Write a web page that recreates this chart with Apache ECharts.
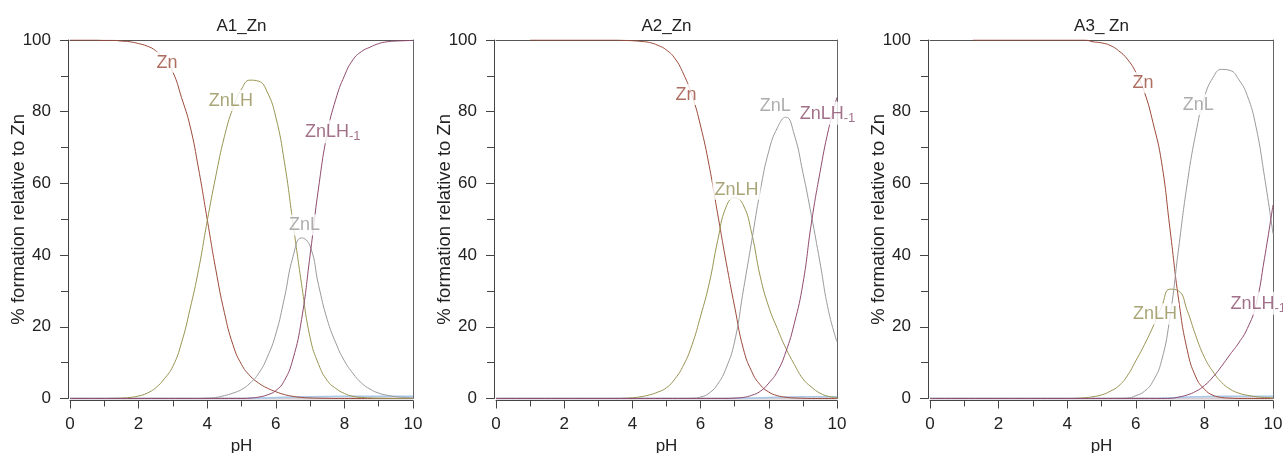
<!DOCTYPE html>
<html>
<head>
<meta charset="utf-8">
<script src="https://cdn.jsdelivr.net/npm/echarts@6/dist/echarts.min.js"></script>
<style>
html,body{margin:0;padding:0;background:#fff;}
#c{width:1283px;height:453px;}
</style>
</head>
<body>
<div id="c"></div>
<script>
// pH grid (step 0.25)
const pH = [0,0.25,0.5,0.75,1,1.25,1.5,1.75,2,2.25,2.5,2.75,3,3.25,3.5,3.75,4,4.25,4.5,4.75,5,5.25,5.5,5.75,6,6.25,6.5,6.75,7,7.25,7.5,7.75,8,8.25,8.5,8.75,9,9.25,9.5,9.75,10];

// Panel A1_Zn
const A1_Zn    = [100,100,100,100,99.9,99.9,99.7,99.5,99,98.3,97,94.5,91,84,76,64,50,36,24,15,9.5,6.3,4.3,2.9,1.9,1.1,0.6,0.3,0.15,0.08,0.04,0,0,0,0,0,0,0,0,0,0];
const A1_ZnLH  = [0,0,0,0,0,0.05,0.1,0.3,0.7,1.5,3,5.5,9,15.5,25,36,49.5,62,73,81,86.3,88.8,88.5,85.5,78.5,66,49,32,17,9.5,5,2.8,1.4,0.6,0.3,0.15,0.07,0.03,0,0,0];
const A1_ZnL   = [0,0,0,0,0,0,0,0,0,0,0,0,0,0,0,0,0.1,0.3,0.8,1.5,2.5,4.3,7,11.5,18,28,39.5,44.8,42.5,31.5,22,15.5,10.5,7,4.3,2.6,1.5,0.9,0.5,0.3,0.15];
const A1_ZnLH1 = [0,0,0,0,0,0,0,0,0,0,0,0,0,0,0,0,0,0,0,0,0,0.1,0.4,1,2.2,5,11,22,40,59,74,83.5,90,94.5,96.8,98,99,99.5,99.7,99.8,99.9];
const A1_minor = [[0,0],[5,0],[6,0.3],[7,0.5],[8,0.6],[10,0.6]];

// Panel A2_Zn
const A2_Zn    = [null,null,null,null,100,100,100,100,100,100,100,100,100,100,100,99.9,99.8,99.6,99.3,98.5,97.2,94.8,90.5,84.5,76,65,51.5,38,25.5,14,7.5,3.8,1.8,0.8,0.35,0.15,0.06,0,0,0,0];
const A2_ZnLH  = [0,0,0,0,0,0,0,0,0,0,0,0,0,0,0,0.05,0.2,0.5,1,1.8,3,5.5,9.3,15,23,32,44,53.5,56,54,46,34,25.5,19.5,14,9.5,5.5,3.2,1.5,0.6,0.3];
const A2_ZnL   = [0,0,0,0,0,0,0,0,0,0,0,0,0,0,0,0,0,0,0,0,0,0,0,0.05,0.4,1.5,4,8.5,16,30,44,58,69,75.5,78.5,73.5,63,51,38,24.5,15.8];
const A2_ZnLH1 = [0,0,0,0,0,0,0,0,0,0,0,0,0,0,0,0,0,0,0,0,0,0,0,0,0,0,0,0,0.1,0.3,0.9,2,4.3,7.5,13,21,32,49,63,75,84];
const A2_minor = [[0,0],[7,0],[8,0.3],[9,0.5],[10,0.5]];

// Panel A3_ Zn
const A3_Zn    = [null,null,null,null,null,100,100,100,100,100,100,100,100,100,100,100,100,100,100,99.5,99.2,98.5,97,94.7,91,85.5,77,66,47,27.5,13.5,6,2.6,0.9,0.3,0.1,0,0,0,0,0];
const A3_ZnLH  = [0,0,0,0,0,0,0,0,0,0,0,0,0,0,0,0,0,0.05,0.2,0.5,1,2,3.5,6.3,10.5,15,20,25.5,30.5,30,24.5,17.5,11.5,7.5,4.5,2.6,1.5,0.9,0.5,0.3,0.2];
const A3_ZnL   = [0,0,0,0,0,0,0,0,0,0,0,0,0,0,0,0,0,0,0,0,0,0,0.02,0.1,0.8,2,4.8,10.5,23,42,60,74,84,89.5,91.8,91.5,89,84.5,76,62,46];
const A3_ZnLH1 = [0,0,0,0,0,0,0,0,0,0,0,0,0,0,0,0,0,0,0,0,0,0,0,0,0,0,0,0,0.05,0.4,1,2,3.6,6,9,12.3,15.5,19.5,26,39,54];
const A3_minor = [[0,0],[6.5,0],[7.5,0.4],[8.5,0.6],[10,0.6]];

// Curve labels (species, pH, %)
const A1_labels = [['Zn',2.83,93.8],['ZnLH',4.69,83.1],['ZnL',6.84,48.4],['ZnLH-1',7.66,74.4]];
const A2_labels = [['Zn',5.57,84.8],['ZnLH',7.05,58.4],['ZnL',8.19,81.6],['ZnLH-1',9.72,79.6]];
const A3_labels = [['Zn',6.21,88.1],['ZnLH',6.56,23.6],['ZnL',7.82,82.0],['ZnLH-1',9.57,26.6]];

const titles = ['A1_Zn','A2_Zn','A3_ Zn'];
const xTicks = [0,2,4,6,8,10];
const yTicks = [0,20,40,60,80,100];

const lineColors = {'Zn':'#9c4a3a','ZnLH':'#9a9452','ZnL':'#9a9a9a','ZnLH-1':'#8f4a6e'};
const textColors = {'Zn':'#9a4a3a','ZnLH':'#948f55','ZnL':'#999999','ZnLH-1':'#8a4d6c'};
const FONT = "'Liberation Sans', Arial, Helvetica, sans-serif";

const panels = [
  {series:{'Zn':A1_Zn,'ZnLH':A1_ZnLH,'ZnL':A1_ZnL,'ZnLH-1':A1_ZnLH1}, minor:A1_minor, labels:A1_labels},
  {series:{'Zn':A2_Zn,'ZnLH':A2_ZnLH,'ZnL':A2_ZnL,'ZnLH-1':A2_ZnLH1}, minor:A2_minor, labels:A2_labels},
  {series:{'Zn':A3_Zn,'ZnLH':A3_ZnLH,'ZnL':A3_ZnL,'ZnLH-1':A3_ZnLH1}, minor:A3_minor, labels:A3_labels}
];
const gridPos = [{left:70,width:343},{left:496,width:341},{left:930,width:343}];

const grid=[], xAxis=[], yAxis=[], series=[];
const axisColor = '#444';
panels.forEach((p,i)=>{
  grid.push({left:gridPos[i].left, width:gridPos[i].width, top:40, height:358.5,
    containLabel:false, outerBoundsMode:'none'});
  xAxis.push({
    gridIndex:i, type:'value', min:xTicks[0], max:xTicks[xTicks.length-1], interval:xTicks[1]-xTicks[0], offset:2,
    axisLine:{show:true,onZero:false,lineStyle:{color:axisColor,width:1}},
    axisTick:{show:true,length:8,lineStyle:{color:axisColor}},
    minorTick:{show:true,splitNumber:2,length:6,lineStyle:{color:axisColor}},
    splitLine:{show:false},
    axisLabel:{fontSize:17,color:'#222',margin:15,fontFamily:FONT},
    name:'pH', nameLocation:'middle', nameGap:37, nameMoveOverlap:false,
    nameTextStyle:{fontSize:17,color:'#222',fontFamily:FONT}
  });
  xAxis.push({
    gridIndex:i, type:'value', min:0, max:10, position:'top',
    axisLine:{show:true,onZero:false,lineStyle:{color:'#555',width:1}},
    axisTick:{show:false}, axisLabel:{show:false}, splitLine:{show:false},
    name:titles[i], nameLocation:'middle', nameGap:5, nameMoveOverlap:false,
    nameTextStyle:{fontSize:17,color:'#222',fontFamily:FONT}
  });
  yAxis.push({
    gridIndex:i, type:'value', min:yTicks[0], max:yTicks[yTicks.length-1], interval:yTicks[1]-yTicks[0], offset:2,
    axisLine:{show:true,onZero:false,lineStyle:{color:axisColor,width:1}},
    axisTick:{show:true,length:8,lineStyle:{color:axisColor}},
    minorTick:{show:true,splitNumber:2,length:7,lineStyle:{color:axisColor}},
    splitLine:{show:false},
    axisLabel:{fontSize:17,color:'#222',margin:17,fontFamily:FONT},
    name:'% formation relative to Zn', nameLocation:'middle', nameGap:40, nameMoveOverlap:false,
    nameTextStyle:{fontSize:18.5,color:'#222',fontFamily:FONT}
  });
  yAxis.push({
    gridIndex:i, type:'value', min:0, max:100, position:'right',
    axisLine:{show:true,onZero:false,lineStyle:{color:'#666',width:1}},
    axisTick:{show:false}, axisLabel:{show:false}, splitLine:{show:false}
  });
  const xa = 2*i, ya = 2*i;
  // pale near-zero species / baseline
  series.push({type:'line', xAxisIndex:xa, yAxisIndex:ya, data:[[0,0],[10,0]], showSymbol:false, silent:true,
    lineStyle:{color:'#d6cbd0',width:2.5}, z:1});
  series.push({type:'line', xAxisIndex:xa, yAxisIndex:ya, data:p.minor, showSymbol:false, silent:true, smooth:0.3,
    lineStyle:{color:'#a9c9ea',width:1.5}, z:1});
  Object.keys(p.series).forEach(name=>{
    const vals = p.series[name];
    series.push({
      type:'line', name:name, xAxisIndex:xa, yAxisIndex:ya,
      data: pH.map((x,k)=>[x, vals[k]]),
      showSymbol:false, smooth:0.5, connectNulls:false, silent:true,
      lineStyle:{color:lineColors[name], width:1}, z:2
    });
  });
  series.push({
    type:'scatter', xAxisIndex:xa, yAxisIndex:ya, symbolSize:1, silent:true, z:10,
    itemStyle:{color:'rgba(0,0,0,0)'},
    data: p.labels.map(l=>({name:l[0], value:[l[1], l[2]],
      label:{color:textColors[l[0]]}})),
    label:{
      show:true, position:'inside', backgroundColor:'#fff', padding:[1,2,0,2],
      fontSize:18, fontFamily:FONT,
      formatter: (d)=> d.name==='ZnLH-1' ? '{n|ZnLH}{s|-1}' : '{n|'+d.name+'}',
      rich:{
        n:{fontSize:18, fontFamily:FONT, lineHeight:20},
        s:{fontSize:13, fontFamily:FONT, padding:[9,0,0,0]}
      }
    }
  });
});

const chart = echarts.init(document.getElementById('c'), null, {renderer:'canvas'});
chart.setOption({
  animation:false,
  backgroundColor:'#fff',
  textStyle:{fontFamily:FONT},
  grid, xAxis, yAxis, series
});
</script>
</body>
</html>
